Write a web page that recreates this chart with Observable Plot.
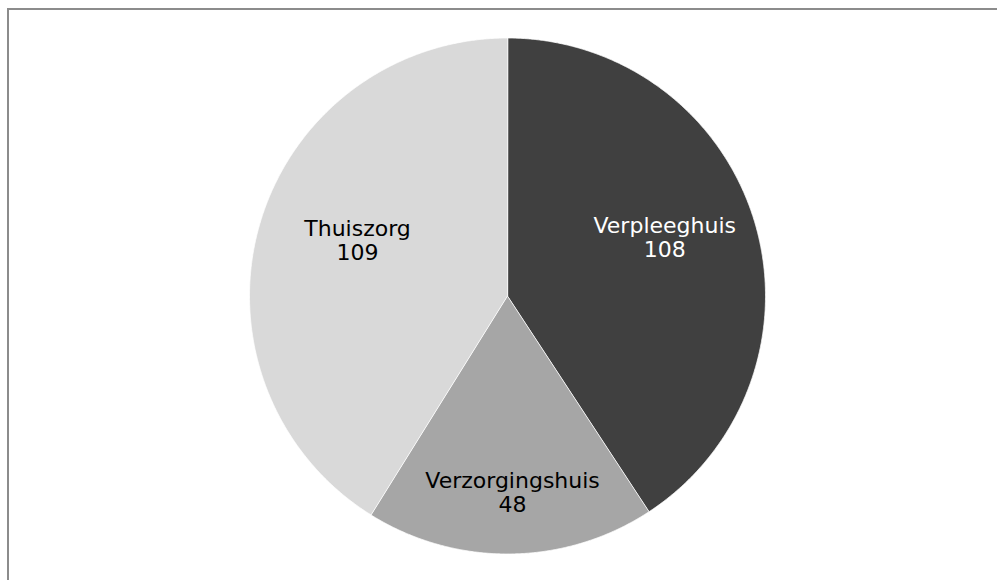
<!DOCTYPE html>
<html>
<head>
<meta charset="utf-8">
<script src="https://cdn.jsdelivr.net/npm/d3@7"></script>
<script src="https://cdn.jsdelivr.net/npm/@observablehq/plot@0.6"></script>
<style>
  html, body { margin: 0; padding: 0; background: #fff; overflow: hidden; }
  #wrap { position: relative; width: 997px; height: 580px; }
  #border { position: absolute; left: 7px; top: 8px; width: 1200px; height: 800px;
            border-top: 2px solid #8c8c8c; border-left: 2px solid #8c8c8c; pointer-events: none; }
  #chart { position: absolute; left: 0; top: 0; }
</style>
</head>
<body>
<div id="wrap"><div id="chart"></div><div id="border"></div></div>
<script>
// Data
const categories = ["Verpleeghuis", "Verzorgingshuis", "Thuiszorg"];
const values = [108, 48, 109];

// Styling / layout (not data)
const colors = ["#404040", "#a6a6a6", "#d9d9d9"];
const textColors = ["#ffffff", "#000000", "#000000"];
const labelRadius = [0.65, 0.76, 0.62];
const labelAngleShift = [-3.7, -0.8, 4.4]; // degrees
const cx = 507, cy = 295.5, R = 258;

const pie = d3.pie().sort(null).value(d => d.value).startAngle(0).endAngle(2 * Math.PI);
const table = categories.map((c, i) => ({category: c, value: values[i], i}));
const arcs = pie(table);

// Build slice outlines from pie angles (unit circle, y downward)
const slicePts = [];
for (const a of arcs) {
  const n = Math.max(2, Math.ceil((a.endAngle - a.startAngle) / 0.005));
  slicePts.push({x: 0, y: 0, category: a.data.category});
  for (let k = 0; k <= n; k++) {
    const t = a.startAngle + (a.endAngle - a.startAngle) * k / n;
    slicePts.push({x: Math.sin(t), y: -Math.cos(t), category: a.data.category});
  }
}

const labels = arcs.map(a => {
  const i = a.data.i;
  const m = (a.startAngle + a.endAngle) / 2 + labelAngleShift[i] * Math.PI / 180;
  return {
    x: labelRadius[i] * Math.sin(m),
    y: -labelRadius[i] * Math.cos(m),
    text: a.data.category + "\n" + a.data.value,
    color: textColors[i]
  };
});

const plot = Plot.plot({
  width: 997,
  height: 580,
  margin: 0,
  style: {fontFamily: "'DejaVu Sans', Verdana, sans-serif", background: "#fff"},
  x: {domain: [-1, 1], range: [cx - R, cx + R], axis: null},
  y: {domain: [-1, 1], range: [cy - R, cy + R], axis: null},
  color: {domain: categories, range: colors},
  marks: [
    Plot.line(slicePts, {
      x: "x", y: "y", z: "category",
      fill: "category", stroke: "#ffffff", strokeWidth: 0.75,
      curve: "linear-closed"
    }),
    Plot.text(labels, {
      x: "x", y: "y", text: "text",
      fill: d => d.color,
      fontSize: 22, lineHeight: 1.09,
      textAnchor: "middle", lineAnchor: "middle"
    })
  ]
});
document.getElementById("chart").appendChild(plot);
</script>
</body>
</html>
